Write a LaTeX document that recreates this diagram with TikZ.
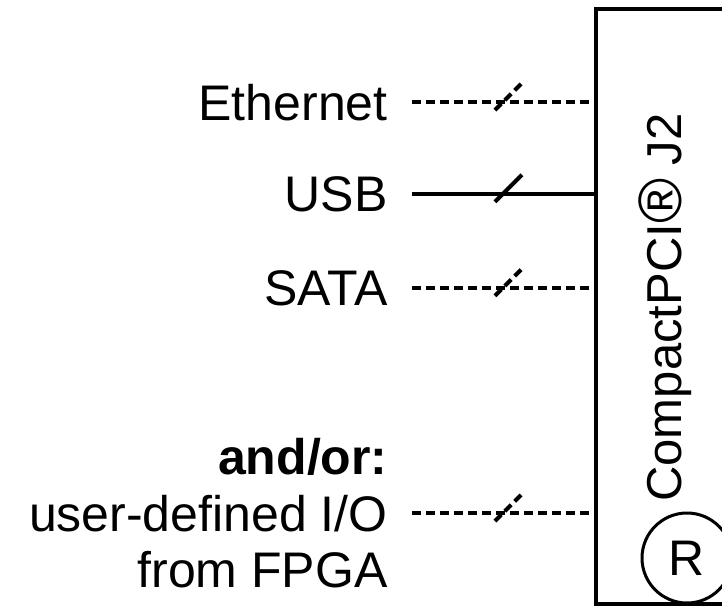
\documentclass[tikz,border=0pt]{standalone}
\usepackage{fontspec}
\setmainfont{Liberation Sans}

\tikzset{
	sig/.style={font=\fontsize{25}{30}\selectfont, inner sep=0pt, anchor=base east},
	conn/.style={line width=2pt},
	dashline/.style={dash pattern=on 4.5pt off 2.5pt},
}

\begin{document}
\begin{tikzpicture}[x=0.5pt, y=-0.5pt]
	\useasboundingbox (0,0) rectangle (722,606);
	\clip (0,0) rectangle (722,606);
	% connector housing
	\node[draw, line width=2pt, outer sep=0pt, minimum width=110pt,
		minimum height=297.5pt, anchor=north west] (j2) at (596,9) {};
	\node[font=\fontsize{24.5}{30}\selectfont, rotate=90, anchor=base,
		inner sep=0pt] (j2name) at (681,307.5) {CompactPCI\scalebox{1.25}{®} J2};
	\node[draw, circle, line width=1.5pt, minimum size=45pt, inner sep=0pt,
		font=\fontsize{25}{30}\selectfont] (reg) at (687,558) {R};
	% signals
	\node[sig] (eth) at (388,120) {Ethernet};
	\node[sig] (usb) at (388,211) {USB};
	\node[sig] (sata) at (388,305) {SATA};
	\node[sig, font=\fontsize{25}{30}\selectfont\bfseries] (andor) at (388,474) {and/or:};
	\node[sig] (user) at (388,531) {user-defined I/O};
	\node[sig] (fpga) at (388,587) {from FPGA};
	\draw[conn, dashline] ([xshift=12pt]eth.east) -- coordinate[pos=0.524] (cuteth) (eth.east -| j2.west);
	\draw[conn] ([xshift=12pt]usb.east) -- coordinate[pos=0.524] (cutusb) (usb.east -| j2.west);
	\draw[conn, dashline] ([xshift=12pt]sata.east) -- coordinate[pos=0.524] (cutsata) (sata.east -| j2.west);
	\draw[conn, dashline] ([xshift=12pt]user.east) -- coordinate[pos=0.524] (cutuser) (user.east -| j2.west);
	% bus marks
	\foreach \c/\s in {eth/dashline, usb/solid, sata/dashline, user/dashline}
		\draw[conn, \s] ([shift={(-13.5,8)}]cut\c) -- ++(27,-27);
\end{tikzpicture}
\end{document}
